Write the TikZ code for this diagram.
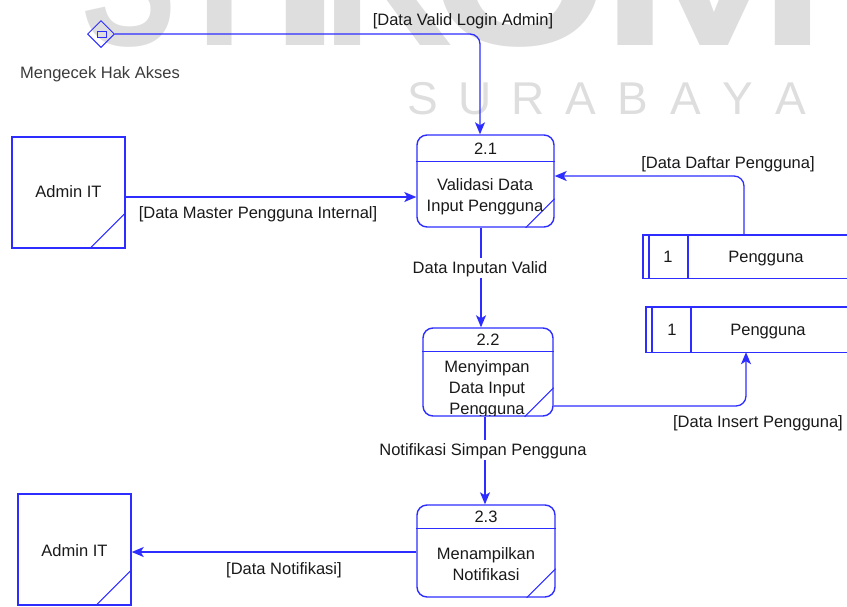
\documentclass[tikz,border=0pt]{standalone}
\usepackage{fontspec}
\setmainfont{Liberation Sans}
\usetikzlibrary{shapes.geometric,arrows.meta,calc}
\definecolor{dfdblue}{RGB}{45,45,255}
\definecolor{txt}{RGB}{25,25,25}
\definecolor{wm}{RGB}{222,222,222}
\tikzset{
  mlbl/.style={font=\fontsize{16.5}{21}\selectfont, text=txt, inner sep=0pt},
  lbl/.style={mlbl, text height=11.8pt, text depth=0pt},
  lblw/.style={lbl, fill=white, inner xsep=1.5pt, inner ysep=4pt},
  boxline/.style={draw=dfdblue, line width=1.4pt},
  thinline/.style={draw=dfdblue, line width=1pt},
  proc/.style={boxline, rounded corners=10pt, inner sep=0pt},
  ent/.style={boxline, inner sep=0pt, minimum width=113pt, minimum height=111pt},
  store/.style={inner sep=0pt},
  flow/.style={draw=dfdblue, line width=1.3pt, rounded corners=10pt,
    -{Stealth[length=12pt,width=10pt,inset=3pt]}},
  wmbig/.style={font=\bfseries\fontsize{190}{190}\selectfont, text=wm, inner sep=0pt, anchor=base},
  wmsmall/.style={font=\fontsize{46}{46}\selectfont, text=wm, inner sep=0pt, anchor=base},
}
\begin{document}
\begin{tikzpicture}[x=1pt,y=-1pt]
\useasboundingbox (0,0) rectangle (847,606);
\clip (0,0) rectangle (847,606);

% watermark
\node[wmbig, xscale=0.75] (w1) at (129,45) {S};
\node[wmbig, xscale=0.9] (w2) at (220,45) {T};
\node[wmbig, xscale=1.4] (w3) at (305,45) {I};
\node[wmbig, xscale=0.95] (w4) at (388,45) {K};
\node[wmbig, xscale=1.2] (w5) at (520,45) {O};
\node[wmbig, xscale=1.45] (w6) at (714,45) {M};
\foreach \l [count=\i from 0] in {S,U,R,A,B,A,Y,A}{
  \node[wmsmall] (s\i) at (423+52.5*\i,114) {\l};
}

% external entities
\node[ent] (a1) at (68.5,192.5) {};
\node[lbl] (a1t) at (68.5,192) {Admin IT};
\draw[thinline] ($(a1.south east)+(0,-36)$) -- ($(a1.south east)+(-36,0)$);

\node[ent] (a2) at (74.5,549.5) {};
\node[lbl] (a2t) at (74.5,551) {Admin IT};
\draw[thinline] ($(a2.south east)+(0,-36)$) -- ($(a2.south east)+(-36,0)$);

% processes
\node[proc, minimum width=137pt, minimum height=92pt] (p1) at (485.5,181) {};
\draw[boxline] ($(p1.north west)+(0,27)$) -- ($(p1.north east)+(0,27)$);
\draw[thinline] ($(p1.south east)+(0,-29)$) -- ($(p1.south east)+(-29,0)$);
\node[lbl] (p1n) at (485.5,148.5) {2.1};
\node[mlbl, align=center] (p1t) at (485,196.5) {Validasi Data\\Input Pengguna};

\node[proc, minimum width=130pt, minimum height=88pt] (p2) at (488,372) {};
\draw[boxline] ($(p2.north west)+(0,24)$) -- ($(p2.north east)+(0,24)$);
\draw[thinline] ($(p2.south east)+(0,-29)$) -- ($(p2.south east)+(-29,0)$);
\node[lbl] (p2n) at (488,340) {2.2};
\begin{scope}
\clip ($(p2.north west)+(0,25)$) rectangle ($(p2.south east)+(0,-1)$);
\node[mlbl, align=center] (p2t) at (487,389) {Menyimpan\\Data Input\\Pengguna};
\end{scope}

\node[proc, minimum width=138pt, minimum height=92pt] (p3) at (486,551) {};
\draw[boxline] ($(p3.north west)+(0,24)$) -- ($(p3.north east)+(0,24)$);
\draw[thinline] ($(p3.south east)+(0,-29)$) -- ($(p3.south east)+(-29,0)$);
\node[lbl] (p3n) at (486,517) {2.3};
\node[mlbl, align=center] (p3t) at (486,564.5) {Menampilkan\\Notifikasi};

% data stores
\node[store, minimum width=207pt, minimum height=43pt] (ds1) at (746.5,256.5) {};
\draw[boxline] (ds1.north east) -- (ds1.north west) -- (ds1.south west) -- (ds1.south east);
\draw[boxline] ($(ds1.north west)+(6,0)$) -- ($(ds1.south west)+(6,0)$);
\draw[boxline] ($(ds1.north west)+(45,0)$) -- ($(ds1.south west)+(45,0)$);
\node[lbl] (ds1n) at (668,257) {1};
\node[lbl] (ds1t) at (766,257) {Pengguna};

\node[store, minimum width=207pt, minimum height=45pt] (ds2) at (749.5,329.5) {};
\draw[boxline] (ds2.north east) -- (ds2.north west) -- (ds2.south west) -- (ds2.south east);
\draw[boxline] ($(ds2.north west)+(6,0)$) -- ($(ds2.south west)+(6,0)$);
\draw[boxline] ($(ds2.north west)+(45,0)$) -- ($(ds2.south west)+(45,0)$);
\node[lbl] (ds2n) at (672,330) {1};
\node[lbl] (ds2t) at (768,330) {Pengguna};

% start symbol
\node[diamond, draw=dfdblue, line width=1pt, minimum width=27pt, minimum height=27pt, inner sep=0pt] (dia) at (101,34) {};
\draw[thinline] (97,31.5) rectangle (106,37.5);
\node[lbl, text=txt!85] (diat) at (100,73) {Mengecek Hak Akses};

% flows
\coordinate (k1) at (480,34);
\draw[flow] (dia.east) -- (k1) -- (k1 |- p1.north);
\node[lbl] (l1) at (463,20) {[Data Valid Login Admin]};

\coordinate (k2) at (0,197);
\draw[flow] (a1.east |- k2) -- (p1.west |- k2);
\node[lbl] (l2) at (258,213) {[Data Master Pengguna Internal]};

\coordinate (k3) at (744,176);
\draw[flow] (ds1.north -| k3) -- (k3) -- (p1.east |- k3);
\node[lbl] (l3) at (728,163) {[Data Daftar Pengguna]};

\coordinate (k4) at (481,0);
\draw[flow] (p1.south -| k4) -- (p2.north -| k4);
\node[lblw] (l4) at (480,268) {Data Inputan Valid};

\coordinate (k5) at (746,406);
\draw[flow] (p2.east |- k5) -- (k5) -- (k5 |- ds2.south);
\node[lbl] (l5) at (758,422) {[Data Insert Pengguna]};

\coordinate (k6) at (485,0);
\draw[flow] (p2.south -| k6) -- (p3.north -| k6);
\node[lblw] (l6) at (483,450) {Notifikasi Simpan Pengguna};

\coordinate (k7) at (0,552);
\draw[flow] (p3.west |- k7) -- (a2.east |- k7);
\node[lbl] (l7) at (284,569) {[Data Notifikasi]};
\end{tikzpicture}
\end{document}
